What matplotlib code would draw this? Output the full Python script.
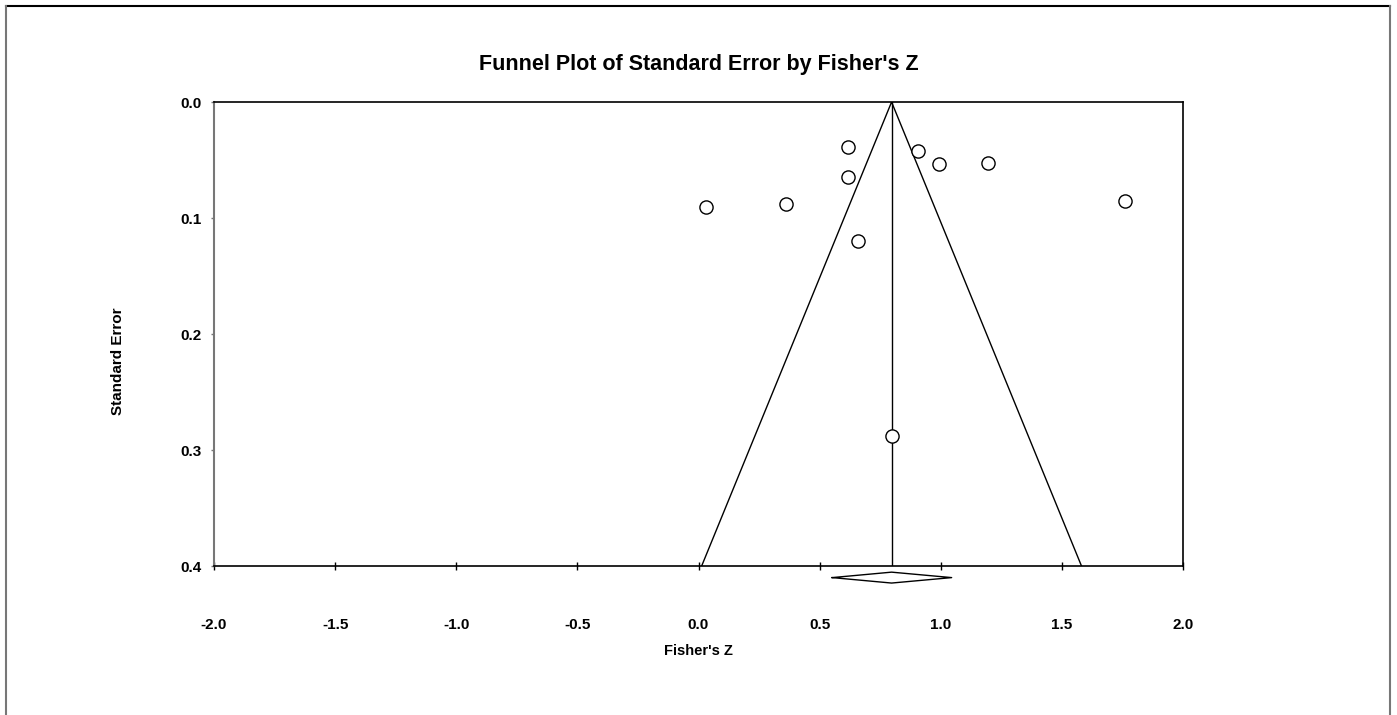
import matplotlib
matplotlib.use("Agg")
import matplotlib.pyplot as plt
from matplotlib.lines import Line2D

plt.rcParams['font.family'] = ['Liberation Sans', 'DejaVu Sans']

# study estimates
fisher_z = [0.616, 0.616, 0.906, 0.994, 1.196, 1.761, 0.031, 0.360, 0.659, 0.800]
std_err = [0.0385, 0.0644, 0.0422, 0.0535, 0.0529, 0.0853, 0.0902, 0.0876, 0.1198, 0.288]

pooled_z = 0.797
ci_low = 0.552
ci_high = 1.045

x_ticks = [-2.0, -1.5, -1.0, -0.5, 0.0, 0.5, 1.0, 1.5, 2.0]
y_ticks = [0.0, 0.1, 0.2, 0.3, 0.4]

fig = plt.figure(figsize=(13.97, 7.15), dpi=100)
ax = fig.add_axes([214/1397, 1 - 566/715, (1183 - 214)/1397, (566 - 102)/715])

# funnel
se_max = 0.4
ax.plot([pooled_z - 1.96*se_max, pooled_z, pooled_z + 1.96*se_max], [se_max, 0, se_max],
        color='black', lw=1.0)
ax.plot([pooled_z, pooled_z], [0, se_max], color='black', lw=1.0)

ax.scatter(fisher_z, std_err, s=90, facecolors='white', edgecolors='black', linewidths=1.0, zorder=3)

# summary diamond under the axis
dy = 0.0047
yc = 0.41
ax.plot([ci_low, pooled_z, ci_high, pooled_z, ci_low], [yc, yc - dy, yc, yc + dy, yc],
        color='black', lw=1.0, clip_on=False)

ax.set_xlim(-2.0, 2.0)
ax.set_ylim(0.4, 0.0)
ax.set_xticks(x_ticks)
ax.set_xticklabels(['%.1f' % v for v in x_ticks], fontweight='bold', fontsize=11)
ax.set_yticks(y_ticks)
ax.set_yticklabels(['%.1f' % v for v in y_ticks], fontweight='bold', fontsize=11)
ax.tick_params(axis='x', direction='inout', length=5.5, width=1, pad=35)
ax.tick_params(axis='y', direction='out', length=2.5, width=1, pad=6.5, color='#777777')
ax.spines['left'].set_color('#777777')
ax.spines['left'].set_linewidth(1.5)
for s in ['top', 'bottom', 'right']:
    ax.spines[s].set_linewidth(1.2)

ax.set_title("Funnel Plot of Standard Error by Fisher's Z", fontweight='bold', fontsize=15.5, pad=23)
ax.set_xlabel("Fisher's Z", fontweight='bold', fontsize=10.5, labelpad=8)
ax.set_ylabel("Standard Error", fontweight='bold', fontsize=11)
ax.yaxis.set_label_coords(-0.092, 0.442)

# outer frame of the page region
fig.add_artist(Line2D([6/1397, 1390/1397], [1 - 6/715, 1 - 6/715], color='black', lw=1.5))
fig.add_artist(Line2D([6/1397, 6/1397], [0, 1 - 6/715], color='#777777', lw=1.5))
fig.add_artist(Line2D([1390/1397, 1390/1397], [0, 1 - 6/715], color='#777777', lw=1.5))

fig.savefig('out.png', dpi=100)
